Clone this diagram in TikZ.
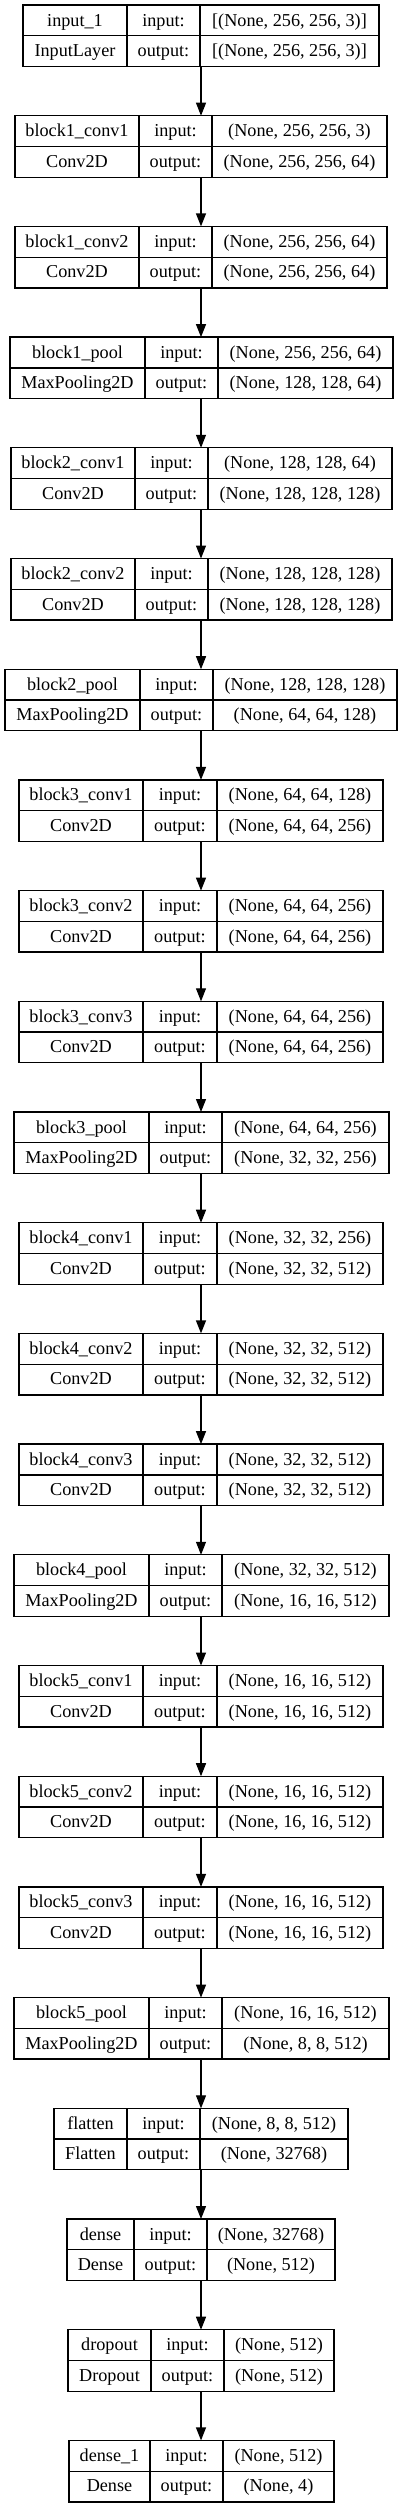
\documentclass[tikz,border=0pt]{standalone}
\usepackage{fontspec}
\setmainfont{Liberation Serif}
\usetikzlibrary{arrows.meta,calc}
\tikzset{
  lbox/.style={draw=black, line width=1.3pt, inner sep=0pt, outer sep=0pt, minimum height=61.5pt},
  cell/.style={anchor=base, inner sep=0pt, font=\fontsize{18.2}{20}\selectfont},
  sep/.style={draw=black, line width=1.3pt},
  arr/.style={draw=black, line width=1.2pt, -{Triangle[length=13pt,width=10pt]}}
}
\newcommand\layer[9]{%
  \pgfmathsetmacro\ty{5+110.7*#1}%
  \pgfmathsetmacro\by{\ty+61.5}%
  \pgfmathsetmacro\my{\ty+30.75}%
  \pgfmathsetmacro\cy{\ty+30.75}%
  \pgfmathsetmacro\cx{(#2+#5)/2}%
  \pgfmathsetmacro\w{#5-#2}%
  \pgfmathsetmacro\ra{\ty+21}%
  \pgfmathsetmacro\rb{\ty+51.5}%
  \pgfmathsetmacro\ca{(#2+#3)/2}%
  \pgfmathsetmacro\cb{(#3+#4)/2}%
  \pgfmathsetmacro\cc{(#4+#5)/2}%
  \node[lbox, minimum width=\w pt] (L#1) at (\cx,\cy) {};
  \draw[sep] (#3,\ty) -- (#3,\by);
  \draw[sep] (#4,\ty) -- (#4,\by);
  \draw[sep] (#2,\my) -- (#5,\my);
  \node[cell] (L#1n) at (\ca,\ra) {#6};
  \node[cell] (L#1t) at (\ca,\rb) {#7};
  \node[cell] (L#1ia) at (\cb,\ra) {input:};
  \node[cell] (L#1oa) at (\cb,\rb) {output:};
  \node[cell] (L#1i) at (\cc,\ra) {#8};
  \node[cell] (L#1o) at (\cc,\rb) {#9};
}
\begin{document}
\begin{tikzpicture}[x=1pt,y=-1pt]
\fill[white] (0,0) rectangle (403,2508);
\useasboundingbox (0,0) rectangle (403,2508);
\layer{0}{23}{127}{200}{379}{input\_1}{InputLayer}{[(None, 256, 256, 3)]}{[(None, 256, 256, 3)]}
\layer{1}{15}{139}{212}{387}{block1\_conv1}{Conv2D}{(None, 256, 256, 3)}{(None, 256, 256, 64)}
\layer{2}{15}{139}{212}{387}{block1\_conv2}{Conv2D}{(None, 256, 256, 64)}{(None, 256, 256, 64)}
\layer{3}{10}{145}{218}{393}{block1\_pool}{MaxPooling2D}{(None, 256, 256, 64)}{(None, 128, 128, 64)}
\layer{4}{11}{135}{208}{392}{block2\_conv1}{Conv2D}{(None, 128, 128, 64)}{(None, 128, 128, 128)}
\layer{5}{11}{135}{208}{392}{block2\_conv2}{Conv2D}{(None, 128, 128, 128)}{(None, 128, 128, 128)}
\layer{6}{5}{140}{213}{397}{block2\_pool}{MaxPooling2D}{(None, 128, 128, 128)}{(None, 64, 64, 128)}
\layer{7}{19}{143}{217}{383}{block3\_conv1}{Conv2D}{(None, 64, 64, 128)}{(None, 64, 64, 256)}
\layer{8}{19}{143}{217}{383}{block3\_conv2}{Conv2D}{(None, 64, 64, 256)}{(None, 64, 64, 256)}
\layer{9}{19}{143}{217}{383}{block3\_conv3}{Conv2D}{(None, 64, 64, 256)}{(None, 64, 64, 256)}
\layer{10}{14}{149}{222}{389}{block3\_pool}{MaxPooling2D}{(None, 64, 64, 256)}{(None, 32, 32, 256)}
\layer{11}{19}{143}{217}{383}{block4\_conv1}{Conv2D}{(None, 32, 32, 256)}{(None, 32, 32, 512)}
\layer{12}{19}{143}{217}{383}{block4\_conv2}{Conv2D}{(None, 32, 32, 512)}{(None, 32, 32, 512)}
\layer{13}{19}{143}{217}{383}{block4\_conv3}{Conv2D}{(None, 32, 32, 512)}{(None, 32, 32, 512)}
\layer{14}{14}{149}{222}{389}{block4\_pool}{MaxPooling2D}{(None, 32, 32, 512)}{(None, 16, 16, 512)}
\layer{15}{19}{143}{217}{383}{block5\_conv1}{Conv2D}{(None, 16, 16, 512)}{(None, 16, 16, 512)}
\layer{16}{19}{143}{217}{383}{block5\_conv2}{Conv2D}{(None, 16, 16, 512)}{(None, 16, 16, 512)}
\layer{17}{19}{143}{217}{383}{block5\_conv3}{Conv2D}{(None, 16, 16, 512)}{(None, 16, 16, 512)}
\layer{18}{14}{149}{222}{389}{block5\_pool}{MaxPooling2D}{(None, 16, 16, 512)}{(None, 8, 8, 512)}
\layer{19}{54}{127}{200}{348}{flatten}{Flatten}{(None, 8, 8, 512)}{(None, 32768)}
\layer{20}{67}{134}{207}{335}{dense}{Dense}{(None, 32768)}{(None, 512)}
\layer{21}{68}{151}{224}{334}{dropout}{Dropout}{(None, 512)}{(None, 512)}
\layer{22}{69}{150}{223}{334}{dense\_1}{Dense}{(None, 512)}{(None, 4)}
\foreach \i in {0,...,21}{
  \pgfmathtruncatemacro\j{\i+1}
  \draw[arr] (201,0 |- L\i.south) -- (201,0 |- L\j.north);
}
\end{tikzpicture}
\end{document}
